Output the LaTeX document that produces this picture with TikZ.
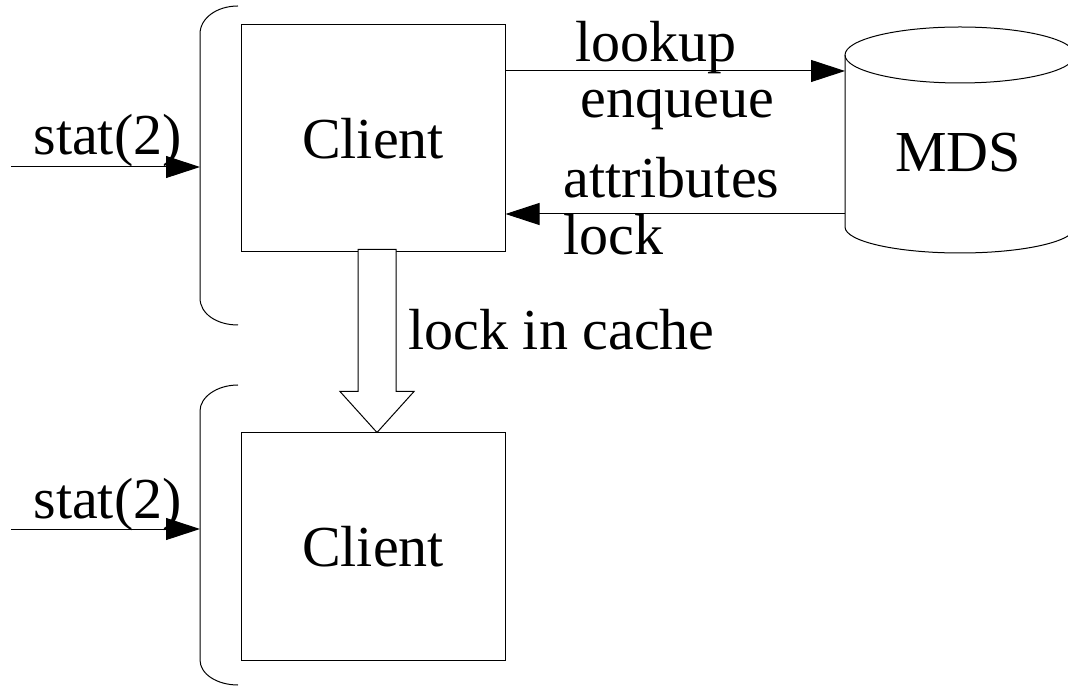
\documentclass[tikz,border=0pt]{standalone}
\usepackage{fontspec}
\setmainfont{Liberation Serif}
\usetikzlibrary{arrows.meta,calc}

\begin{document}
\begin{tikzpicture}[x=0.5pt,y=-0.5pt,line width=0.5pt,
    font=\fontsize{29}{29}\selectfont,
    clientbox/.style={draw,minimum width=132pt,minimum height=113.5pt,inner sep=0pt},
    lbl/.style={anchor=base west,inner sep=0pt},
    arr/.style={-{Triangle[length=17pt,width=11pt]}},
    fatarrow/.style={draw,fill=white}]
    \useasboundingbox (0,0) rectangle (1068,688);

    % Braces round the two clients
    \draw (238,6) .. controls (217,6) and (200,18) .. (200,34)
        -- (200,298) .. controls (200,314) and (217,325) .. (238,325);
    \draw (238,385) .. controls (217,385) and (200,397) .. (200,411)
        -- (200,660) .. controls (200,674) and (217,685) .. (238,685);

    % Clients
    \node[clientbox] (client1) at (373,138.5) {Client};
    \node[clientbox] (client2) at (373,546.5) {Client};

    % MDS as a cylinder
    \draw (960,55) ellipse [x radius=115, y radius=28];
    \draw (845,55) -- (845,227) arc [start angle=180, end angle=0, x radius=115, y radius=26] -- (1075,55);
    \node[anchor=base] (mds) at (958,172) {MDS};
    \coordinate (mdsin) at (845,71);
    \coordinate (mdsout) at (845,214);

    % Requests and replies
    \draw[arr] (client1.east |- mdsin) -- (mdsin);
    \draw[arr] (mdsout) -- (client1.east |- mdsout);
    \node[lbl] (lookuplbl) at (575,62) {lookup};
    \node[lbl] (enqueuelbl) at (580,118) {enqueue};
    \node[lbl] (attrlbl) at (563,198) {attributes};
    \node[lbl] (locklbl) at (563,255) {lock};

    % System calls
    \coordinate (stat1) at (11,167);
    \coordinate (brace1) at (200,167);
    \coordinate (stat2) at (11,529);
    \coordinate (brace2) at (200,529);
    \node[lbl] (stat1lbl) at (33,155) {stat(2)};
    \node[lbl] (stat2lbl) at (33,518) {stat(2)};
    \draw[arr] (stat1) -- (brace1);
    \draw[arr] (stat2) -- (brace2);

    % Lock found in the cache
    \draw[fatarrow] ([xshift=-7.5pt,yshift=1.5pt]client1.south)
        -- ([xshift=-7.5pt,yshift=20.5pt]client2.north)
        -- ([xshift=-16.5pt,yshift=20.5pt]client2.north)
        -- ([xshift=2pt]client2.north)
        -- ([xshift=20.5pt,yshift=20.5pt]client2.north)
        -- ([xshift=11.5pt,yshift=20.5pt]client2.north)
        -- ([xshift=11.5pt,yshift=1.5pt]client1.south) -- cycle;
    \node[lbl] (cachelbl) at (408,350) {lock in cache};
\end{tikzpicture}
\end{document}
